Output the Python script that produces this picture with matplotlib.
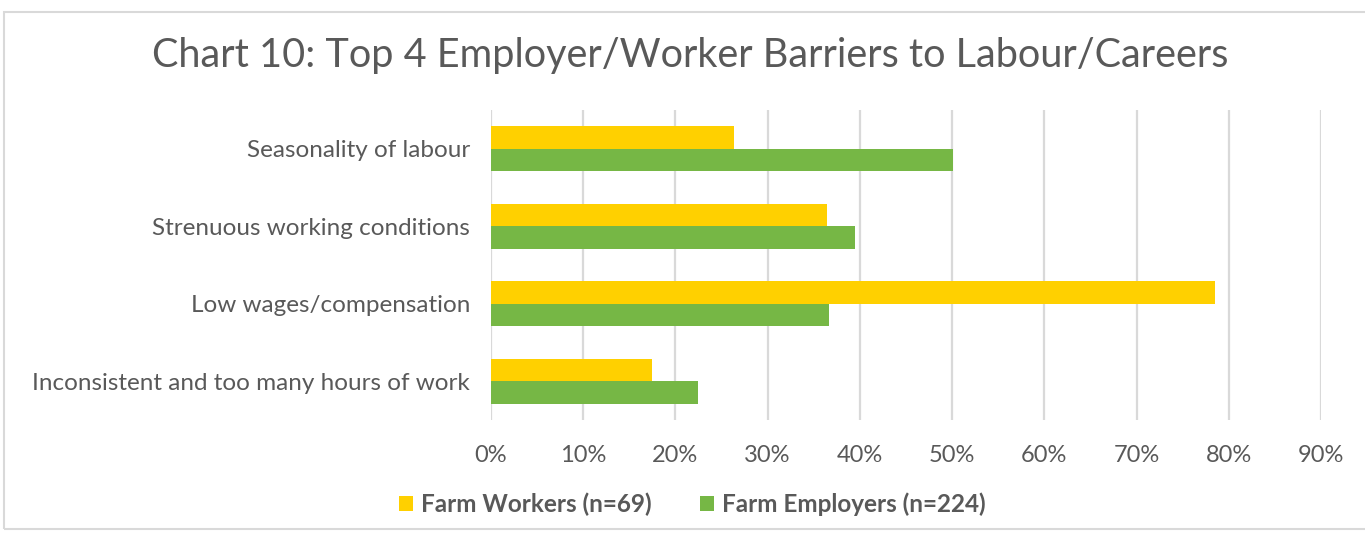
import matplotlib.pyplot as plt
import numpy as np
from matplotlib.patches import Rectangle
from matplotlib.ticker import FuncFormatter

categorias = ['Seasonality of labour', 'Strenuous working conditions',
              'Low wages/compensation', 'Inconsistent and too many hours of work']
trabajadores = [26.3, 36.4, 78.5, 17.5]
empleadores = [50.1, 39.5, 36.7, 22.4]
series = ['Farm Workers (n=69)', 'Farm Employers (n=224)']

gris = '#595959'
plt.rcParams['font.family'] = ['Lato', 'DejaVu Sans']

fig = plt.figure(figsize=(13.65, 5.35), dpi=100)
ax = fig.add_axes([491 / 1365, 1 - 420 / 535, (1321 - 491) / 1365, 310 / 535])

# borde del cuadro
fig.patches.append(Rectangle((4 / 1365, 6 / 535), 1.0, 1 - 18 / 535,
                             transform=fig.transFigure, fill=False,
                             edgecolor='#d9d9d9', linewidth=1.5))

y = np.arange(len(categorias))
alto = 0.29
ax.barh(y - alto / 2, trabajadores, height=alto, color='#FFD000', label=series[0], zorder=3)
ax.barh(y + alto / 2, empleadores, height=alto, color='#76B745', label=series[1], zorder=3)

ax.set_xlim(0, 90)
ax.set_ylim(len(categorias) - 0.5, -0.5)
ax.set_xticks(range(0, 91, 10))
ax.xaxis.set_major_formatter(FuncFormatter(lambda v, p: f'{v:.0f}%'))
ax.set_yticks(y)
ax.set_yticklabels(categorias)
ax.grid(axis='x', color='#d9d9d9', linewidth=1.6, zorder=0)
for s in ax.spines.values():
    s.set_visible(False)
ax.tick_params(axis='x', length=0, colors=gris, labelsize=17, pad=18)
ax.tick_params(axis='y', length=0, colors=gris, labelsize=17.5, pad=15)

fig.text(690 / 1365, 1 - 56 / 535, 'Chart 10: Top 4 Employer/Worker Barriers to Labour/Careers',
         ha='center', va='center', fontsize=28.5, color=gris)

leg = fig.legend(loc='center', bbox_to_anchor=(692 / 1365, 1 - 504 / 535), ncol=2,
                 frameon=False, fontsize=17.5, handlelength=0.6, handleheight=0.6,
                 columnspacing=2.0, handletextpad=0.3)
for t in leg.get_texts():
    t.set_color(gris)
    t.set_fontweight('bold')

plt.savefig('out.png', dpi=100)
